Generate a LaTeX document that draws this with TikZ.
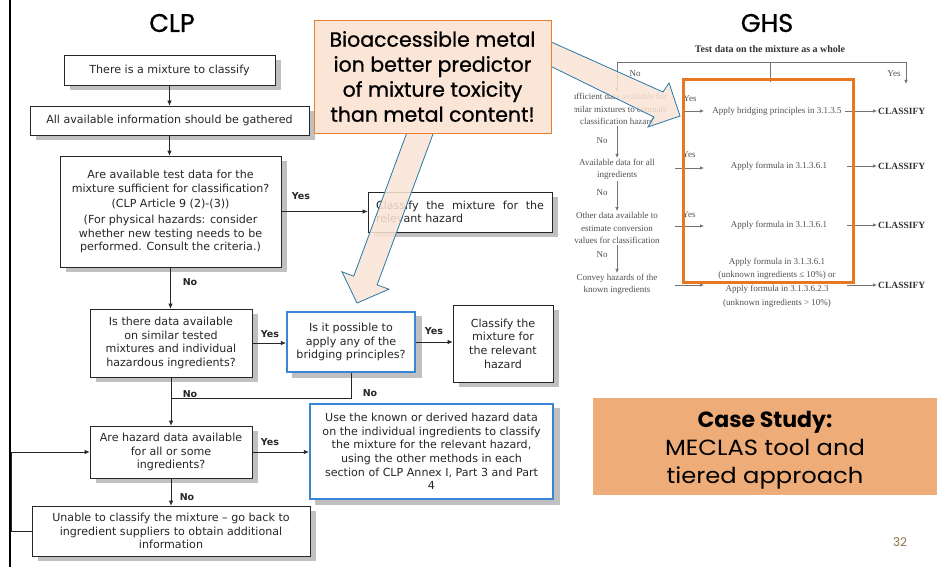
\documentclass[tikz,border=0pt]{standalone}
\usepackage{fontspec}
\usetikzlibrary{arrows.meta,calc}
\newfontfamily\verd{DejaVu Sans}
\newfontfamily\gothic{Poppins}
\newfontfamily\gothicwide[FakeStretch=1.1]{Poppins}
\newfontfamily\gothicmed[FakeBold=0.8]{Poppins}
\newfontfamily\tnr{Liberation Serif}
\definecolor{boxblue}{RGB}{58,134,214}
\definecolor{calloutfill}{RGB}{251,229,214}
\definecolor{calloutline}{RGB}{237,125,49}
\definecolor{arrowline}{RGB}{40,120,165}
\definecolor{ghsorange}{RGB}{232,119,34}
\definecolor{casefill}{RGB}{238,172,120}
\definecolor{pagenum}{RGB}{140,115,70}
\definecolor{ghsgray}{RGB}{80,80,80}
\definecolor{shadowgray}{RGB}{192,192,192}
\definecolor{pagewhite}{RGB}{255,255,255}
\pgfdeclarelayer{bglayer}
\pgfdeclarelayer{shadowlayer}
\pgfsetlayers{bglayer,shadowlayer,main}
\tikzset{
  flowbox/.style={draw=black!85, line width=0.7pt, fill=pagewhite, align=center, inner sep=2pt,
    font=\verd\fontsize{11.1}{13.7}\selectfont, text=black!85},
  bluebox/.style={flowbox, draw=boxblue, line width=2.2pt},
  boxshadow/.style={fill=shadowgray},
  flowarrow/.style={draw=black!85, line width=0.7pt, -{Latex[length=5pt,width=4.5pt]}},
  flowline/.style={draw=black!85, line width=0.7pt},
  yn/.style={font=\verd\bfseries\fontsize{9.5}{11}\selectfont, text=black!85, inner sep=0pt},
  title/.style={font=\gothicmed\fontsize{25.5}{30}\selectfont, inner sep=0pt},
  ghstext/.style={font=\tnr\fontsize{9}{12.5}\selectfont, text=ghsgray, align=center, inner sep=1pt},
  ghsline/.style={draw=black!55, line width=0.6pt},
  ghsarrow/.style={ghsline, -{Latex[length=4pt,width=3.5pt]}},
  ghsclass/.style={font=\tnr\bfseries\fontsize{9.5}{11}\selectfont, text=black!80, anchor=west, inner sep=1pt},
  bigarrow/.style={draw=arrowline, line width=0.8pt, fill=calloutfill, fill opacity=0.85, line join=miter},
}
\begin{document}
\begin{tikzpicture}[x=1pt, y=-1pt]
\useasboundingbox (0,0) rectangle (952,567);
\begin{pgfonlayer}{bglayer}
\fill[pagewhite] (0,0) rectangle (952,567);
\end{pgfonlayer}
\draw[line width=2pt] (10,0) -- (10,567);

% ---------- titles
\node[title] (clp) at (172,23) {CLP};
\node[title] (ghs) at (767,23) {GHS};

% ---------- CLP flowchart
\node[flowbox, minimum width=211pt, minimum height=30pt] (b1) at (169.5,70) {There is a mixture to classify};
\node[flowbox, minimum width=279pt, minimum height=29pt] (b2) at (169.5,120.5) {All available information should be gathered};
\node[flowbox, minimum width=221pt, minimum height=111pt] (b3) at (170.5,211.5)
  {Are available test data for the\\mixture sufficient for classification?\\[2pt](CLP Article 9 (2)-(3))\\[2pt](For physical hazards: consider\\whether new testing needs to be\\performed. Consult the criteria.)};
\node[flowbox, minimum width=184pt, minimum height=40pt, align=left] (c1) at (460,212)
  {\makebox[168pt][s]{Classify the mixture for the}\\relevant hazard};
\node[flowbox, minimum width=162pt, minimum height=68pt] (b4) at (171,343)
  {Is there data available\\on similar tested\\mixtures and individual\\hazardous ingredients?};
\node[bluebox, minimum width=128pt, minimum height=60pt] (br) at (351,342)
  {Is it possible to\\apply any of the\\bridging principles?};
\node[flowbox, minimum width=100pt, minimum height=77pt] (c2) at (503,343.5)
  {Classify the\\mixture for\\the relevant\\hazard};
\node[flowbox, minimum width=162pt, minimum height=52pt] (b5) at (171,452)
  {Are hazard data available\\for all or some\\ingredients?};
\node[bluebox, minimum width=243pt, minimum height=95pt] (bl2) at (431.5,451.5)
  {Use the known or derived hazard data\\on the individual ingredients to classify\\the mixture for the relevant hazard,\\using the other methods in each\\section of CLP Annex I, Part 3 and Part\\4};
\node[flowbox, minimum width=278pt, minimum height=50pt] (b6) at (171,531)
  {Unable to classify the mixture – go back to\\ingredient suppliers to obtain additional\\information};

\begin{pgfonlayer}{shadowlayer}
\foreach \bx in {b1,b2,b3,c1,b4,br,c2,b5,bl2,b6}
  \fill[boxshadow] ($(\bx.south west)+(6,5)$) rectangle ($(\bx.north east)+(6,5)$);
\end{pgfonlayer}

\coordinate (j) at (171,398);
\draw[flowarrow] (b1.south) -- (b1.south |- b2.north);
\draw[flowarrow] (b2.south) -- (b2.south |- b3.north);
\draw[flowarrow] (b3.east) -- (b3.east -| c1.west);
\draw[flowarrow] (b3.south) -- (b3.south |- b4.north);
\draw[flowarrow] (b4.east) -- (b4.east -| br.west);
\draw[flowarrow] (br.east) -- (br.east -| c2.west);
\draw[flowline] (br.south) |- (j);
\draw[flowarrow] (b4.south) -- (b4.south |- b5.north);
\draw[flowarrow] (b5.east) -- (b5.east -| bl2.west);
\draw[flowarrow] (b5.south) -- (b5.south |- b6.north);
\draw[flowarrow] (b6.west) -- ++(-20,0) |- (b5.west);

\node[yn] (y1) at (301,196) {Yes};
\node[yn] (n1) at (190,282) {No};
\node[yn] (y2) at (270,334) {Yes};
\node[yn] (y3) at (434,331) {Yes};
\node[yn] (n2) at (370,393) {No};
\node[yn] (n3) at (190,394) {No};
\node[yn] (y4) at (270,442) {Yes};
\node[yn] (n4) at (187,497) {No};

% ---------- GHS flowchart
\begin{scope}
\clip (574,30) rectangle (952,320);
\node[font=\tnr\bfseries\fontsize{10}{12}\selectfont, text=black!80, inner sep=0pt] (tdata) at (770,49) {Test data on the mixture as a whole};
\coordinate (hl) at (617,62);
\coordinate (hm) at (770,62);
\coordinate (hr) at (906,62);
\coordinate (hmend) at (770,82);
\coordinate (hrend) at (906,84);
\node[ghstext] (g1) at (617,109) {Sufficient data available for\\similar mixtures to estimate\\classification hazard};
\node[ghstext] (g2) at (617,169.5) {Available data for all\\ingredients};
\node[ghstext] (g3) at (617,228) {Other data available to\\estimate conversion\\values for classification};
\node[ghstext] (g4) at (617,284.5) {Convey hazards of the\\known ingredients};
\draw[ghsline] (hl) -- (hr);
\draw[ghsarrow] (hl) -- (g1.north);
\draw[ghsline] (hm) -- (hmend);
\draw[ghsarrow] (hr) -- (hrend);
\draw[ghsarrow] (g1.south) -- (g2.north);
\draw[ghsarrow] (g2.south) -- (g3.north);
\draw[ghsarrow] (g3.south) -- (g4.north);
\node[ghstext] (gn0) at (635,74) {No};
\node[ghstext] (gy0) at (894,74) {Yes};
\node[ghstext] (gn1) at (602,141) {No};
\node[ghstext] (gn2) at (602,193) {No};
\node[ghstext] (gn3) at (602,255) {No};

\node[ghstext] (a1) at (777,111) {Apply bridging principles in 3.1.3.5};
\node[ghstext] (a2) at (779,166) {Apply formula in 3.1.3.6.1};
\node[ghstext] (a3) at (779,225) {Apply formula in 3.1.3.6.1};
\node[ghstext, font=\tnr\fontsize{9}{13.7}\selectfont] (a4) at (777,282.5)
  {Apply formula in 3.1.3.6.1\\(unknown ingredients ≤ 10\%) or\\Apply formula in 3.1.3.6.2.3\\(unknown ingredients > 10\%)};
\node[ghsclass] (k1) at (877,111) {CLASSIFY};
\node[ghsclass] (k2) at (877,166) {CLASSIFY};
\node[ghsclass] (k3) at (877,225) {CLASSIFY};
\node[ghsclass] (k4) at (877,285) {CLASSIFY};
\coordinate (ys1) at (685,111); \coordinate (ye1) at (704,111);
\coordinate (ys2) at (675,168); \coordinate (ye2) at (704,168);
\coordinate (ys3) at (675,226); \coordinate (ye3) at (704,226);
\coordinate (ys4) at (675,285); \coordinate (ye4) at (704,285);
\coordinate (cs1) at (845,111);
\coordinate (cs2) at (847,166);
\coordinate (cs3) at (847,225);
\coordinate (cs4) at (847,285);
\draw[ghsarrow] (ys1) -- (ye1);
\draw[ghsarrow] (ys2) -- (ye2);
\draw[ghsarrow] (ys3) -- (ye3);
\draw[ghsarrow] (ys4) -- (ye4);
\draw[ghsarrow] (cs1) -- (k1.west);
\draw[ghsarrow] (cs2) -- (k2.west);
\draw[ghsarrow] (cs3) -- (k3.west);
\draw[ghsarrow] (cs4) -- (k4.west);
\node[ghstext] (gy1) at (690,99) {Yes};
\node[ghstext] (gy2) at (689,155) {Yes};
\node[ghstext] (gy3) at (689,215) {Yes};
\end{scope}
\draw[ghsorange, line width=3pt] (683,80) rectangle (853,282);

% ---------- big block arrows
\draw[bigarrow] (540,61) -- (540,37) -- (663,92) -- (669,83) -- (680,116)
  -- (648,127) -- (654,117) -- cycle;
\draw[bigarrow] (411.3,120.6) -- (434.7,129.4) -- (377.1,284.9) -- (388.9,289.2) -- (357,303)
  -- (341.95,271.8) -- (353.7,276.2) -- cycle;

% ---------- callout
\node[draw=calloutline, fill=calloutfill, line width=0.8pt, minimum width=237pt, minimum height=113pt,
  align=center, inner sep=0pt, font=\gothicmed\fontsize{20.5}{25}\selectfont] (callout) at (432.5,76.5)
  {Bioaccessible metal\\ion better predictor\\of mixture toxicity\\than metal content!};

% ---------- case study
\node[fill=casefill, minimum width=344pt, minimum height=97pt, inner sep=0pt] (case) at (765,446.5) {};
\node[align=center, inner sep=0pt, font=\gothicwide\fontsize{22}{28}\selectfont] (casetext) at (765,450)
  {{\gothic\bfseries\fontsize{22}{28}\selectfont Case Study:}\\MECLAS tool and\\tiered approach};
\node[font=\gothic\fontsize{12}{14}\selectfont, text=pagenum, inner sep=0pt] (pnum) at (900,542) {32};
\end{tikzpicture}
\end{document}
